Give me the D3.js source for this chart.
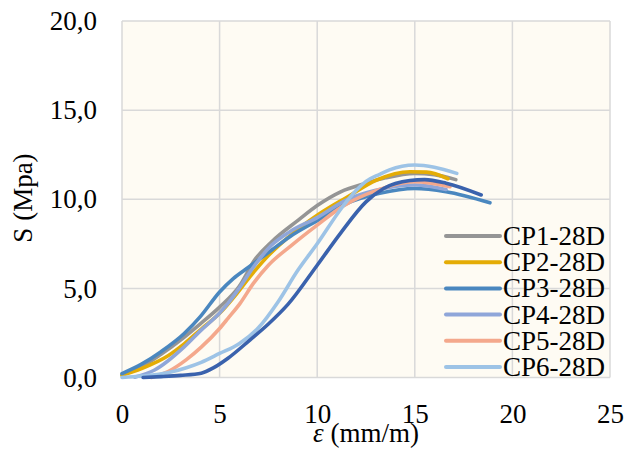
<!DOCTYPE html>
<html>
<head>
<meta charset="utf-8">
<script src="https://cdn.jsdelivr.net/npm/d3@7"></script>
<style>
  html, body { margin: 0; padding: 0; background: #ffffff; }
  svg { display: block; }
  text { font-family: "Liberation Serif", "Times New Roman", serif; fill: #000; }
</style>
</head>
<body>
<svg id="chart" width="625" height="455"></svg>
<script>
// Stress–strain curves, 28-day specimens
const xTicks = [0, 5, 10, 15, 20, 25];
const yTicks = [0, 5, 10, 15, 20];

const seriesNames = ["CP1-28D", "CP2-28D", "CP3-28D", "CP4-28D", "CP5-28D", "CP6-28D", "CP7-28D"];
const seriesColors = ["#959595", "#E4AC05", "#4A87BF", "#8FA6D9", "#F4A88C", "#9DC3E6", "#3A62AD"];
const legendCount = 6;

// strain (mm/m) and stress (MPa) for each specimen
const cp1Strain = [0, 1, 2, 3, 4, 5, 6, 6.8, 7.67, 9.03, 10, 11.2, 12.5, 13.5, 15, 16, 17.1];
const cp1Stress = [0.15, 0.6, 1.3, 2.1, 3.0, 3.95, 5.1, 6.6, 7.62, 8.83, 9.65, 10.42, 10.9, 11.2, 11.45, 11.38, 11.1];

const cp2Strain = [0, 1, 2.36, 3.2, 4.06, 5, 5.8, 6.55, 7.33, 8.6, 10, 11.5, 13.05, 14.75, 15.6, 16.7];
const cp2Stress = [0.12, 0.5, 1.22, 1.9, 2.72, 3.6, 4.6, 5.65, 6.65, 7.95, 9.1, 10.1, 11.08, 11.54, 11.52, 11.15];

const cp3Strain = [0, 1, 2, 3.2, 4, 5, 5.7, 6.5, 7.67, 8.6, 10, 11.5, 13.2, 15, 16.6, 18.85];
const cp3Stress = [0.22, 0.75, 1.45, 2.48, 3.4, 4.8, 5.55, 6.2, 7.15, 7.9, 8.8, 9.75, 10.33, 10.6, 10.42, 9.8];

const cp4Strain = [0.65, 1.67, 3.2, 4, 5, 5.43, 6, 6.8, 7.67, 8.6, 10, 11.5, 13, 15, 16.6];
const cp4Stress = [0.02, 0.42, 1.73, 2.6, 3.62, 4.16, 5.0, 6.3, 7.43, 8.18, 8.97, 9.96, 10.5, 10.8, 10.55];

const cp5Strain = [1.5, 2.36, 3.3, 4.06, 5, 5.43, 6.05, 6.73, 7.5, 8.7, 10, 11.3, 13.05, 15, 16.8];
const cp5Stress = [0.0, 0.33, 1.0, 1.7, 2.75, 3.32, 4.16, 5.28, 6.3, 7.43, 8.55, 9.6, 10.5, 10.98, 10.7];

const cp6Strain = [0, 1, 2.4, 3.3, 4.06, 5, 6, 7, 8, 9, 10, 11.3, 12, 12.5, 13.2, 13.7, 15, 16, 17.15];
const cp6Stress = [0.0, 0.08, 0.28, 0.55, 0.85, 1.35, 1.9, 2.8, 4.25, 6.0, 7.5, 9.58, 10.5, 11.0, 11.4, 11.65, 11.92, 11.8, 11.45];

const cp7Strain = [1.08, 2, 3, 4.06, 4.7, 5.43, 6.55, 7.5, 8.5, 10, 11.2, 12.5, 13.4, 14.75, 15.5, 16.6, 18.4];
const cp7Stress = [0.0, 0.05, 0.12, 0.24, 0.55, 1.08, 2.1, 3.0, 4.1, 6.3, 8.1, 9.85, 10.6, 11.05, 11.1, 10.9, 10.24];

const strains = [cp1Strain, cp2Strain, cp3Strain, cp4Strain, cp5Strain, cp6Strain, cp7Strain];
const stresses = [cp1Stress, cp2Stress, cp3Stress, cp4Stress, cp5Stress, cp6Stress, cp7Stress];

const series = seriesNames.map((name, i) => ({
  name,
  color: seriesColors[i],
  points: strains[i].map((s, j) => [s, stresses[i][j]])
}));

const svg = d3.select("#chart");
const plot = { left: 122, right: 610, top: 21, bottom: 377.5 };

const x = d3.scaleLinear().domain([0, 25]).range([plot.left, plot.right]);
const y = d3.scaleLinear().domain([0, 20]).range([plot.bottom, plot.top]);

// plot background
svg.append("rect")
  .attr("x", plot.left).attr("y", plot.top)
  .attr("width", plot.right - plot.left).attr("height", plot.bottom - plot.top)
  .attr("fill", "#FEFBF3");

// grid lines
const grid = svg.append("g").attr("stroke", "#D9D9D9").attr("stroke-width", 1.5);
grid.selectAll(".gx").data(xTicks).join("line")
  .attr("x1", d => x(d)).attr("x2", d => x(d))
  .attr("y1", plot.top).attr("y2", plot.bottom);
grid.selectAll(".gy").data(yTicks).join("line")
  .attr("x1", plot.left).attr("x2", plot.right)
  .attr("y1", d => y(d)).attr("y2", d => y(d));

// axes (labels only; lines come from the grid)
const fmtY = d => d3.format(".1f")(d).replace(".", ",");
const xAxis = d3.axisBottom(x).tickValues(xTicks).tickSize(0).tickPadding(26);
const yAxis = d3.axisLeft(y).tickValues(yTicks).tickSize(0).tickPadding(25).tickFormat(fmtY);

svg.append("g").attr("transform", `translate(0,${plot.bottom})`).call(xAxis)
  .call(g => g.select(".domain").remove())
  .selectAll("text").attr("font-size", 27).attr("font-family", "Liberation Serif").attr("fill", "#000");
svg.append("g").attr("transform", `translate(${plot.left},0)`).call(yAxis)
  .call(g => g.select(".domain").remove())
  .selectAll("text").attr("font-size", 27).attr("font-family", "Liberation Serif").attr("fill", "#000");

// curves
const line = d3.line().x(d => x(d[0])).y(d => y(d[1])).curve(d3.curveMonotoneX);
svg.append("g").selectAll("path").data(series).join("path")
  .attr("d", d => line(d.points))
  .attr("fill", "none")
  .attr("stroke", d => d.color)
  .attr("stroke-width", 3.6)
  .attr("stroke-linecap", "round")
  .attr("stroke-linejoin", "round");

// legend
const legend = svg.append("g");
const legendRows = series.slice(0, legendCount);
const lg = legend.selectAll("g").data(legendRows).join("g")
  .attr("transform", (d, i) => `translate(446, ${236 + i * 26.2})`);
lg.append("line")
  .attr("x1", 0).attr("x2", 54).attr("y1", 0).attr("y2", 0)
  .attr("stroke", d => d.color).attr("stroke-width", 4).attr("stroke-linecap", "round");
lg.append("text")
  .attr("x", 57).attr("y", 9)
  .attr("font-size", 27)
  .text(d => d.name);

// axis titles
svg.append("text")
  .attr("x", 366).attr("y", 442)
  .attr("text-anchor", "middle")
  .attr("font-size", 27)
  .call(t => {
    t.append("tspan").attr("font-style", "italic").text("ε");
    t.append("tspan").text(" (mm/m)");
  });

svg.append("text")
  .attr("transform", "translate(32,198) rotate(-90)")
  .attr("text-anchor", "middle")
  .attr("font-size", 27)
  .text("S (Mpa)");
</script>
</body>
</html>
